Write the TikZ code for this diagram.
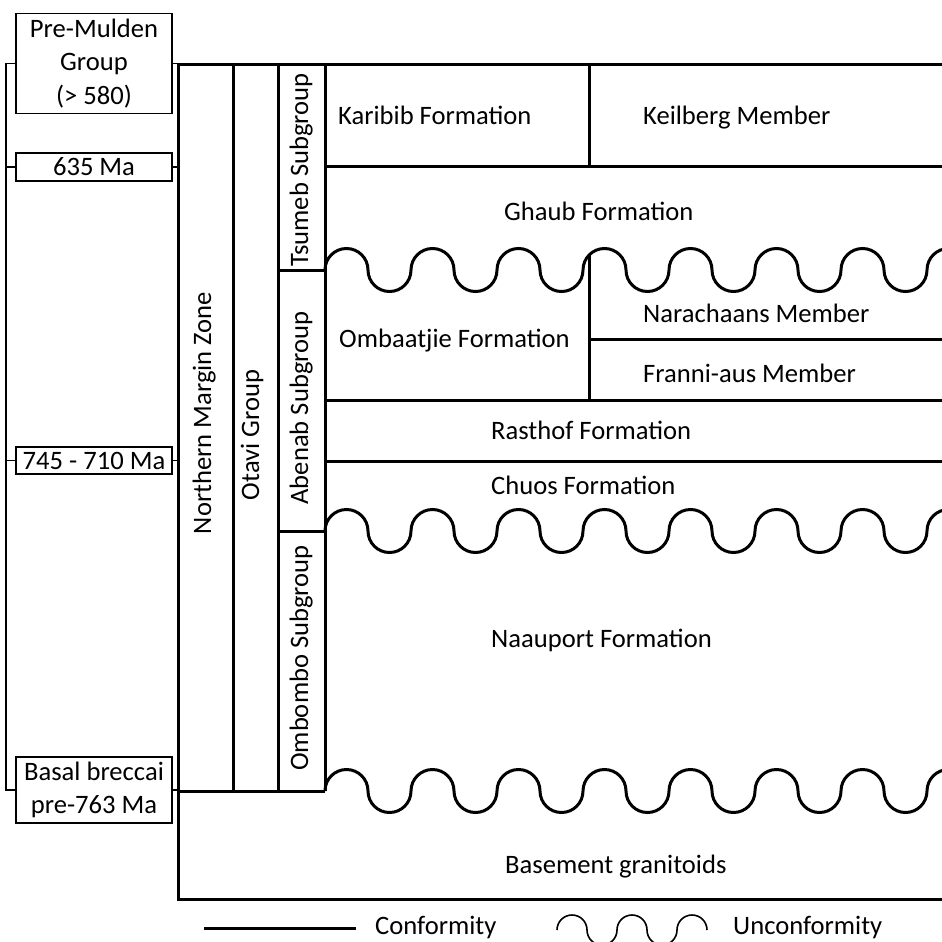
\documentclass[tikz,border=0pt]{standalone}
\usepackage{fontspec}
\setmainfont{Carlito}
\tikzset{
  strata/.style={line width=3pt},
  thinline/.style={line width=1.6pt},
  agebox/.style={draw, line width=1.6pt, minimum width=156pt, inner sep=0pt, align=center,
    font=\fontsize{26.6}{33.5}\selectfont},
  layer/.style={anchor=west, inner sep=0pt, text height=1.2em, text depth=0pt,
    font=\fontsize{26.6}{33.5}\selectfont},
  colname/.style={rotate=90, inner sep=0pt, text height=1.2em, text depth=0pt,
    font=\fontsize{26.6}{33.5}\selectfont}
}
\begin{document}
\begin{tikzpicture}[x=1pt,y=-1pt]
  \clip (0,0) rectangle (942,942);
  \node[agebox, minimum height=100pt] (premulden) at (94,63.5) {Pre-Mulden\\Group\\(> 580)};
  \node[agebox, minimum height=28pt] (age635) at (94,167) {635 Ma};
  \node[agebox, minimum height=27pt] (age745) at (94,460.5) {745 - 710 Ma};
  \node[agebox, minimum height=66pt] (breccai) at (94,790) {Basal breccai\\pre-763 Ma};
  \coordinate (nw) at (178,65);
  \draw[thinline] (premulden.west) -- ++(-9,0) |- (breccai.west);
  \draw[thinline] (age635.west) -- ++(-9,0);
  \draw[thinline] (age745.west) -- ++(-9,0);
  \foreach \b in {premulden,age635,age745,breccai}
    \draw[thinline] (\b.east) -- (\b.east -| nw);
  \draw[strata] (942,65) -- (nw) -- (178,899) -- (942,899);
  \draw[strata] (233,65) -- (233,791);
  \draw[strata] (278,65) -- (278,791);
  \draw[strata] (325,65) -- (325,791);
  \draw[strata] (178,791) -- (325,791);
  \draw[strata] (278,270) -- (325,270);
  \draw[strata] (278,531) -- (325,531);
  \draw[strata] (325,166) -- (942,166);
  \draw[strata] (589,65) -- (589,166);
  \draw[strata] (589,255) -- (589,400);
  \draw[strata] (589,339) -- (942,339);
  \draw[strata] (325,400) -- (942,400);
  \draw[strata] (325,461) -- (942,461);
  \foreach \wy in {270,531,791}
    \draw[strata] (325,\wy) \foreach \k in {1,...,8} {
      arc[start angle=180, end angle=360, radius=21.5]
      arc[start angle=180, end angle=0, radius=21.5]};
  \node[colname] (nmz) at (205,413) {Northern Margin Zone};
  \node[colname] (otavi) at (253,435) {Otavi Group};
  \node[colname] (tsumeb) at (302,170) {Tsumeb Subgroup};
  \node[colname] (abenab) at (302,408) {Abenab Subgroup};
  \node[colname] (ombombo) at (302,658) {Ombombo Subgroup};
  \node[layer] (karibib) at (338,118) {Karibib Formation};
  \node[layer] (keilberg) at (643,118) {Keilberg Member};
  \node[layer] (ghaub) at (504,214) {Ghaub Formation};
  \node[layer] (ombaatjie) at (339,341) {Ombaatjie Formation};
  \node[layer] (narachaans) at (643,316) {Narachaans Member};
  \node[layer] (franni) at (643,376) {Franni-aus Member};
  \node[layer] (rasthof) at (491,433) {Rasthof Formation};
  \node[layer] (chuos) at (491,488) {Chuos Formation};
  \node[layer] (naauport) at (491,641) {Naauport Formation};
  \node[layer] (basement) at (505,867) {Basement granitoids};
  \coordinate (conA) at (204,928);
  \coordinate (conB) at (356,928);
  \draw[strata] (conA) -- (conB);
  \node[layer] (conformity) at (375,928) {Conformity};
  \draw[thinline] (557,930) \foreach \k in {1,2} {
      arc[start angle=180, end angle=360, radius=15]
      arc[start angle=180, end angle=0, radius=15]}
      arc[start angle=180, end angle=360, radius=15];
  \node[layer] (unconformity) at (733,928) {Unconformity};
\end{tikzpicture}
\end{document}
